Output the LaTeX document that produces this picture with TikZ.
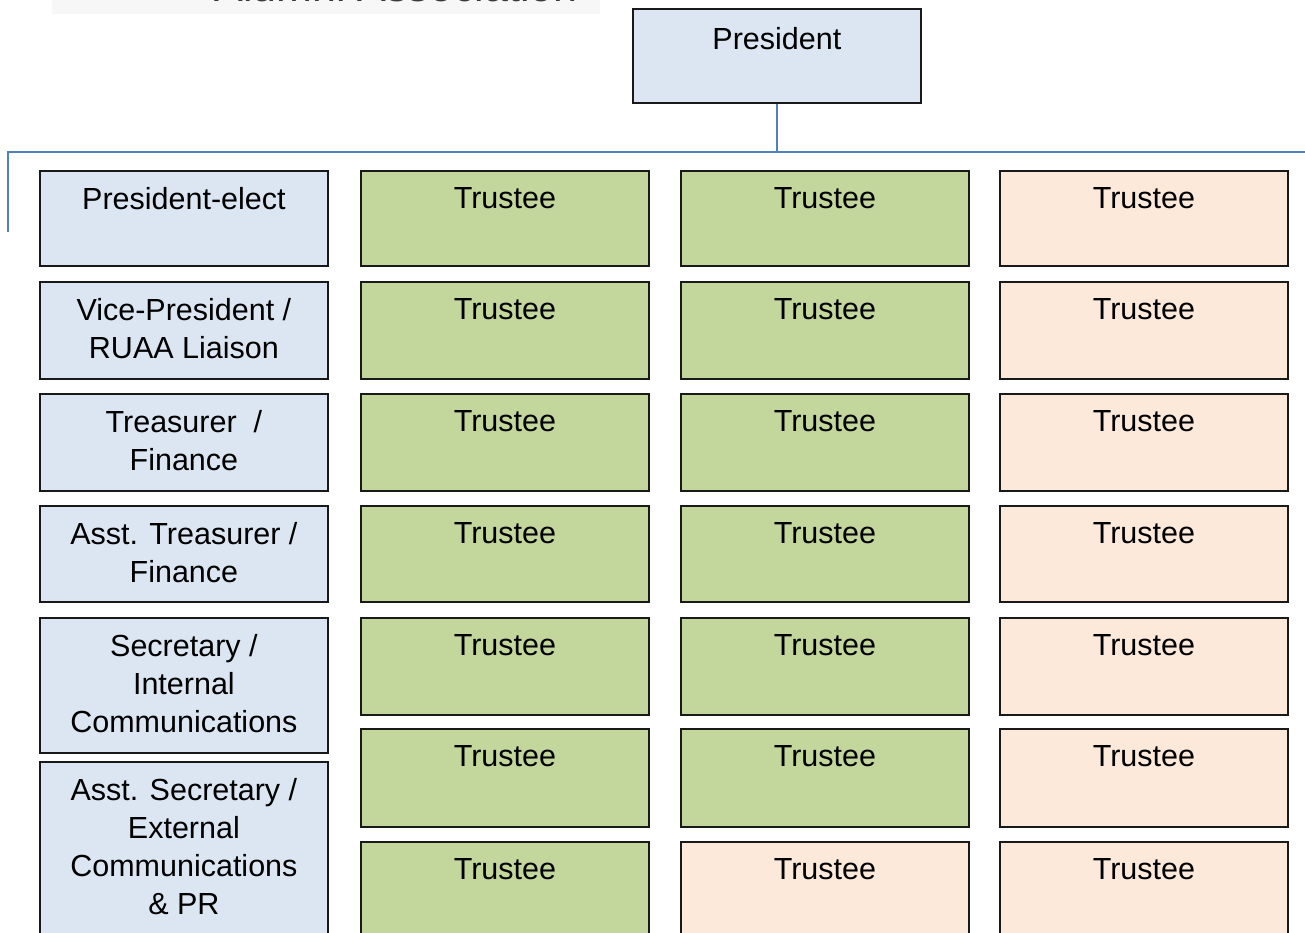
\documentclass[tikz,border=0pt]{standalone}
\usepackage{fontspec}
\setmainfont{Liberation Sans}
\usetikzlibrary{positioning}
\definecolor{blueF}{HTML}{DCE6F2}
\definecolor{grnF}{HTML}{C3D69B}
\definecolor{pchF}{HTML}{FDE9D9}
\definecolor{lineB}{HTML}{4F81BD}
\definecolor{titleBg}{HTML}{F7F7F7}
\definecolor{titleFg}{HTML}{3A3A3A}
\newcommand\boxfont{\fontsize{30.5}{38}\selectfont}
\begin{document}
\begin{tikzpicture}[x=1pt,y=1pt,
  box/.style={draw=black!90, line width=1.8pt, minimum width=288pt, minimum height=#1, inner sep=0pt, anchor=north west},
  lbl/.style={font=\boxfont, align=center, anchor=north, inner sep=0pt, text=black},
  conn/.style={draw=lineB, line width=2pt}]
\useasboundingbox (0,0) rectangle (1305,-933);
\clip (0,0) rectangle (1305,-933);
% title strip
\fill[titleBg] (52,20) rectangle (600,-14);
\node[anchor=base, font=\fontsize{43}{50}\selectfont, text=titleFg, inner sep=0pt] (title) at (396,-2) {Alumni Association};
% president
\node[box=94pt, fill=blueF] (pres) at (632,-8) {};
\node[lbl, below=19pt of pres.north] (presT) {President};
% connectors
\coordinate (busL) at (8,-152);
\coordinate (busR) at (1310,-152);
\coordinate (busEnd) at (8,-232);
\draw[conn] (pres.south) -- (pres.south |- busL);
\draw[conn] (busEnd) -- (busL) -- (busR);
% officers column
\node[box=95pt, fill=blueF] (o1) at (39,-170) {};
\node[lbl, below=17pt of o1.north] (o1t) {President-elect};
\node[box=97pt, fill=blueF] (o2) at (39,-281) {};
\node[lbl, below=17pt of o2.north] (o2t) {Vice-President /\\RUAA Liaison};
\node[box=97pt, fill=blueF] (o3) at (39,-393) {};
\node[lbl, below=17pt of o3.north] (o3t) {Treasurer \ /\\Finance};
\node[box=96pt, fill=blueF] (o4) at (39,-505) {};
\node[lbl, below=17pt of o4.north] (o4t) {Asst. Treasurer /\\Finance};
\node[box=135pt, fill=blueF] (o5) at (39,-617) {};
\node[lbl, below=17pt of o5.north] (o5t) {Secretary /\\Internal\\Communications};
\node[box=200pt, fill=blueF] (o6) at (39,-761) {};
\node[lbl, below=17pt of o6.north] (o6t) {Asst. Secretary /\\External\\Communications\\\& PR};
% trustees
\foreach \r/\top/\h/\cc in {1/170/95/grnF, 2/281/97/grnF, 3/393/97/grnF, 4/505/96/grnF, 5/617/97/grnF, 6/728/98/grnF, 7/841/140/pchF} {
  \node[box=\h pt, fill=grnF] (a\r) at (360,-\top) {};
  \node[lbl, below=17pt of a\r.north] (a\r t) {Trustee};
  \node[box=\h pt, fill=\cc] (b\r) at (680,-\top) {};
  \node[lbl, below=17pt of b\r.north] (b\r t) {Trustee};
  \node[box=\h pt, fill=pchF] (c\r) at (999,-\top) {};
  \node[lbl, below=17pt of c\r.north] (c\r t) {Trustee};
}
\end{tikzpicture}
\end{document}
